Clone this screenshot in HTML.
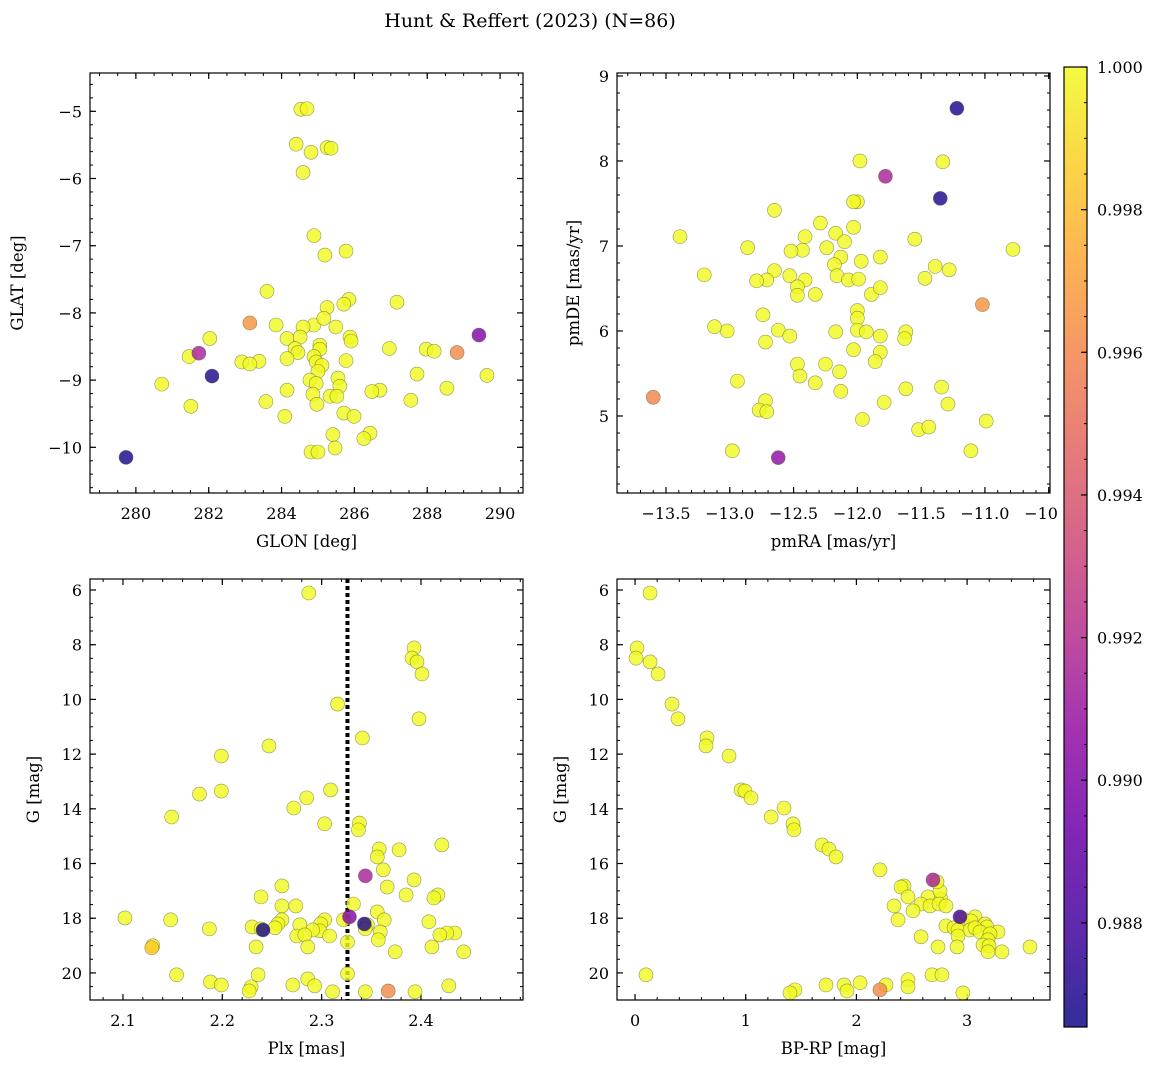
<!DOCTYPE html>
<html><head><meta charset="utf-8"><style>
html,body{margin:0;padding:0;background:#fff}
svg{display:block;font-family:"DejaVu Serif","Liberation Serif",serif}
</style></head><body>
<svg id="fig" width="1161" height="1067" viewBox="0 0 1161 1067" xmlns="http://www.w3.org/2000/svg">
<text x="530" y="27" font-size="19" text-anchor="middle">Hunt &amp; Reffert (2023) (N=86)</text>
</svg>
<script>
// ---- Panel 1: GLON vs GLAT ----
const p1Lon=[284.53,284.70,284.40,284.81,285.25,285.36,284.59,284.89,285.77,285.19,283.60,287.17,285.85,285.71,285.25,283.85,284.89,284.59,285.49,285.16,284.15,284.51,285.88,285.91,282.03,284.37,285.05,285.05,286.96,284.45,287.97,288.19,281.46,282.91,283.38,283.13,284.15,284.89,284.95,285.77,285.11,285.00,280.71,285.55,284.78,284.95,287.72,289.64,285.60,284.15,286.70,286.48,288.54,284.86,285.33,285.52,283.57,287.55,284.97,281.51,285.71,285.99,284.09,285.41,286.43,286.26,284.81,285.00,285.47,283.13,288.82,289.42,281.73,282.09,279.73];
const p1Lat=[-4.97,-4.96,-5.49,-5.61,-5.54,-5.55,-5.91,-6.85,-7.08,-7.14,-7.68,-7.84,-7.80,-7.87,-7.92,-8.18,-8.18,-8.21,-8.21,-8.08,-8.38,-8.36,-8.36,-8.42,-8.38,-8.53,-8.48,-8.54,-8.53,-8.59,-8.54,-8.57,-8.65,-8.73,-8.72,-8.76,-8.68,-8.65,-8.73,-8.71,-8.78,-8.87,-9.06,-8.97,-9.00,-9.05,-8.91,-8.93,-9.09,-9.15,-9.15,-9.17,-9.12,-9.21,-9.24,-9.24,-9.32,-9.30,-9.36,-9.39,-9.49,-9.54,-9.54,-9.81,-9.79,-9.87,-10.07,-10.07,-10.01,-8.15,-8.59,-8.33,-8.60,-8.94,-10.15];
const p1Prob=[1,1,1,1,1,1,1,1,1,1,1,1,1,1,1,1,1,1,1,1,1,1,1,1,1,1,1,1,1,1,1,1,1,1,1,1,1,1,1,1,1,1,1,1,1,1,1,1,1,1,1,1,1,1,1,1,1,1,1,1,1,1,1,1,1,1,1,1,1,0.9966,0.9962,0.9900,0.9915,0.9870,0.9868];
const p1XTicks=[280,282,284,286,288,290];
const p1YTicks=[-10,-9,-8,-7,-6,-5];
// ---- Panel 2: pmRA vs pmDE ----
const p2Ra=[-11.98,-11.33,-12.00,-12.03,-12.65,-12.29,-12.03,-12.17,-12.41,-11.55,-13.39,-10.78,-12.86,-12.24,-12.43,-12.52,-12.10,-12.13,-11.82,-11.97,-11.39,-11.28,-12.65,-12.18,-12.16,-13.20,-12.53,-12.41,-12.71,-12.79,-12.07,-11.99,-11.47,-12.47,-12.47,-12.33,-11.89,-11.82,-12.00,-12.00,-12.74,-13.02,-13.12,-12.62,-12.17,-12.00,-11.93,-12.53,-11.82,-11.62,-11.63,-12.72,-11.82,-12.03,-11.86,-12.47,-12.25,-12.14,-12.45,-12.94,-12.33,-12.13,-11.62,-11.34,-12.72,-11.79,-11.29,-12.77,-12.71,-11.96,-10.99,-11.52,-11.44,-12.98,-11.11,-11.22,-11.78,-11.35,-11.02,-13.60,-12.62];
const p2De=[8.00,7.99,7.52,7.52,7.42,7.27,7.22,7.15,7.11,7.08,7.11,6.96,6.98,6.98,6.95,6.94,7.05,6.87,6.87,6.82,6.76,6.72,6.71,6.78,6.65,6.66,6.65,6.60,6.60,6.59,6.60,6.61,6.62,6.52,6.42,6.43,6.43,6.51,6.24,6.15,6.19,6.00,6.05,6.01,5.99,6.01,5.99,5.94,5.94,5.99,5.91,5.87,5.75,5.78,5.64,5.61,5.61,5.52,5.47,5.41,5.39,5.29,5.32,5.34,5.18,5.16,5.14,5.07,5.05,4.96,4.94,4.84,4.87,4.59,4.59,8.62,7.82,7.56,6.31,5.22,4.51];
const p2Prob=[1,1,1,1,1,1,1,1,1,1,1,1,1,1,1,1,1,1,1,1,1,1,1,1,1,1,1,1,1,1,1,1,1,1,1,1,1,1,1,1,1,1,1,1,1,1,1,1,1,1,1,1,1,1,1,1,1,1,1,1,1,1,1,1,1,1,1,1,1,1,1,1,1,1,1,0.9868,0.9915,0.9870,0.9966,0.9960,0.9905];
const p2XTicks=[-13.5,-13.0,-12.5,-12.0,-11.5,-11.0,-10.5];
const p2XLabels=["\u221213.5","\u221213.0","\u221212.5","\u221212.0","\u221211.5","\u221211.0","\u221210.5"];
const p2YTicks=[5,6,7,8,9];
// ---- Panel 3: Plx vs G ----
const p3Plx=[2.287,2.393,2.391,2.396,2.401,2.316,2.398,2.341,2.247,2.199,2.309,2.199,2.177,2.285,2.272,2.149,2.303,2.338,2.337,2.421,2.358,2.378,2.356,2.362,2.393,2.260,2.366,2.239,2.417,2.413,2.385,2.260,2.274,2.332,2.356,2.303,2.322,2.346,2.363,2.260,2.256,2.278,2.299,2.102,2.148,2.253,2.298,2.230,2.291,2.187,2.239,2.408,2.344,2.359,2.357,2.434,2.275,2.283,2.308,2.426,2.419,2.130,2.234,2.326,2.286,2.374,2.411,2.443,2.326,2.154,2.236,2.188,2.199,2.229,2.227,2.271,2.344,2.286,2.293,2.428,2.394,2.311,2.344,2.328,2.343,2.241,2.129,2.367];
const p3G=[6.11,8.12,8.49,8.63,9.07,10.17,10.71,11.41,11.70,12.07,13.31,13.35,13.46,13.60,13.97,14.30,14.55,14.52,14.77,15.32,15.47,15.50,15.76,16.23,16.60,16.82,16.86,17.22,17.15,17.26,17.15,17.55,17.55,17.48,17.77,18.06,18.06,18.24,18.06,18.06,18.21,18.24,18.21,17.99,18.06,18.35,18.46,18.32,18.43,18.39,18.39,18.13,18.39,18.50,18.79,18.54,18.65,18.61,18.65,18.54,18.61,19.01,19.05,18.87,19.05,19.23,19.05,19.23,20.03,20.07,20.07,20.33,20.44,20.51,20.66,20.44,20.69,20.22,20.47,20.47,20.69,20.69,16.45,17.95,18.21,18.43,19.08,20.66];
const p3Prob=[1,1,1,1,1,1,1,1,1,1,1,1,1,1,1,1,1,1,1,1,1,1,1,1,1,1,1,1,1,1,1,1,1,1,1,1,1,1,1,1,1,1,1,1,1,1,1,1,1,1,1,1,1,1,1,1,1,1,1,1,1,1,1,1,1,1,1,1,1,1,1,1,1,1,1,1,1,1,1,1,1,1,0.9915,0.9900,0.9870,0.9868,0.9985,0.9962];
const p3XTicks=[2.1,2.2,2.3,2.4];
const p3YTicks=[6,8,10,12,14,16,18,20];
const p3PlxCut=2.326;
// ---- Panel 4: BP-RP vs G ----
const p4Col=[0.136,0.018,0.009,0.136,0.208,0.334,0.388,0.650,0.641,0.849,0.958,0.993,1.048,1.346,1.229,1.427,1.436,1.689,1.752,1.816,2.213,2.430,2.403,2.340,2.466,2.647,2.764,2.755,2.728,2.584,2.665,2.746,2.809,2.511,2.376,2.962,3.071,2.809,2.882,3.035,3.162,3.180,2.918,3.026,3.071,3.116,3.279,2.918,3.207,2.584,3.189,3.144,3.198,2.909,2.737,3.315,3.568,3.189,0.099,2.683,2.773,2.466,2.033,1.888,1.725,2.267,2.466,1.445,1.400,1.915,2.962,2.692,2.936,2.213];
const p4G=[6.11,8.12,8.49,8.63,9.07,10.17,10.71,11.41,11.70,12.07,13.31,13.35,13.60,13.97,14.30,14.55,14.77,15.32,15.47,15.76,16.23,16.82,16.86,17.55,17.22,17.22,17.30,17.01,16.67,17.48,17.55,17.48,17.55,17.73,18.06,18.02,17.95,18.28,18.35,18.10,18.21,18.32,18.43,18.43,18.35,18.50,18.50,18.65,18.57,18.68,18.79,18.98,19.01,19.05,19.05,19.23,19.05,19.23,20.07,20.07,20.07,20.25,20.36,20.44,20.44,20.44,20.51,20.62,20.73,20.66,20.73,16.60,17.95,20.62];
const p4Prob=[1,1,1,1,1,1,1,1,1,1,1,1,1,1,1,1,1,1,1,1,1,1,1,1,1,1,1,1,1,1,1,1,1,1,1,1,1,1,1,1,1,1,1,1,1,1,1,1,1,1,1,1,1,1,1,1,1,1,1,1,1,1,1,1,1,1,1,1,1,1,1,0.9915,0.9880,0.9962];
const p4XTicks=[0,1,2,3];
const p4YTicks=[6,8,10,12,14,16,18,20];
// ---- Colorbar ----
const cbTicks=[0.988,0.990,0.992,0.994,0.996,0.998,1.000];
const cbMin=0.98654, cbMax=1.0;

const NS="http://www.w3.org/2000/svg";
const svg=document.getElementById('fig');
function mk(tag,attrs,parent){const e=document.createElementNS(NS,tag);for(const k in attrs)e.setAttribute(k,attrs[k]);(parent||svg).appendChild(e);return e;}
const plasma=[[13,8,135],[65,4,157],[106,0,168],[143,13,164],[177,42,144],[204,71,120],[225,100,98],[242,132,75],[252,166,54],[252,206,37],[240,249,33]];
function cmap(v){let t=(v-cbMin)/(cbMax-cbMin);t=Math.max(0,Math.min(1,t))*10;const i=Math.min(9,Math.floor(t)),f=t-i;const a=plasma[i],b=plasma[i+1];return 'rgb('+a.map((x,j)=>Math.round(x+(b[j]-x)*f)).join(',')+')';}
function fmt(v,d){const s=Math.abs(v).toFixed(d);return (v<0?'\u2212':'')+s;}

function panel(o){
  const g=mk('g',{});
  
  
  const sx=v=>o.L+(v-o.x0)/(o.x1-o.x0)*(o.R-o.L);
  const sy=v=>o.T+(v-o.y0)/(o.y1-o.y0)*(o.B-o.T);
  for(let v=Math.ceil(o.x0/o.xm)*o.xm;v<=o.x1;v+=o.xm){const x=sx(v);
    mk('line',{x1:x,x2:x,y1:o.B,y2:o.B-3,stroke:'#000','stroke-width':1},g);
    mk('line',{x1:x,x2:x,y1:o.T,y2:o.T+3,stroke:'#000','stroke-width':1},g);}
  const ylo=Math.min(o.y0,o.y1),yhi=Math.max(o.y0,o.y1);
  for(let v=Math.ceil(ylo/o.ym)*o.ym;v<=yhi;v+=o.ym){const y=sy(v);
    mk('line',{x1:o.L,x2:o.L+3,y1:y,y2:y,stroke:'#000','stroke-width':1},g);
    mk('line',{x1:o.R,x2:o.R-3,y1:y,y2:y,stroke:'#000','stroke-width':1},g);}
  o.xt.forEach((v,i)=>{const x=sx(v);
    mk('line',{x1:x,x2:x,y1:o.B,y2:o.B-6,stroke:'#000','stroke-width':1.2},g);
    mk('line',{x1:x,x2:x,y1:o.T,y2:o.T+6,stroke:'#000','stroke-width':1.2},g);
    const t=mk('text',{x:x,y:o.B+26,'font-size':16,'text-anchor':'middle'},g);
    
    
    t.textContent=o.xl?o.xl[i]:fmt(v,o.xd);});
  o.yt.forEach(v=>{const y=sy(v);
    mk('line',{x1:o.L,x2:o.L+6,y1:y,y2:y,stroke:'#000','stroke-width':1.2},g);
    mk('line',{x1:o.R,x2:o.R-6,y1:y,y2:y,stroke:'#000','stroke-width':1.2},g);
    const t=mk('text',{x:o.L-8,y:y+6,'font-size':16,'text-anchor':'end'},g);
    
    
    t.textContent=fmt(v,o.yd);});
  const xl=mk('text',{x:(o.L+o.R)/2,y:o.B+54,'font-size':16.5,'text-anchor':'middle'},g);
  
  
  xl.textContent=o.xlab;
  const yx=o.ylx, yy=(o.T+o.B)/2;
  const yl=mk('text',{x:yx,y:yy,'font-size':16.5,'text-anchor':'middle',transform:'rotate(-90 '+yx+' '+yy+')'},g);
  
  
  yl.textContent=o.ylab;
  const clip='c'+o.name;
  const cp=mk('clipPath',{id:clip},g);mk('rect',{x:o.L,y:o.T,width:o.R-o.L,height:o.B-o.T},cp);
  const pts=mk('g',{'clip-path':'url(#'+clip+')'},g);
  if(o.vline!==undefined){const x=sx(o.vline);
    const l=mk('line',{x1:x,x2:x,y1:o.T,y2:o.B,stroke:'#000','stroke-width':4,'stroke-dasharray':'4 3'},pts);
    
    }
  o.xs.forEach((v,i)=>{
    const c=mk('circle',{cx:sx(v),cy:sy(o.ys[i]),r:7,fill:cmap(o.cs[i]),'fill-opacity':0.82,stroke:'#55552a','stroke-opacity':0.6,'stroke-width':0.6},pts);
    
    });
  mk('rect',{x:o.L,y:o.T,width:o.R-o.L,height:o.B-o.T,fill:'none',stroke:'#000','stroke-width':1.2},g);
}
panel({name:'panel-glon-glat',L:90,R:523,T:73,B:493,x0:278.74,x1:290.63,y0:-4.43,y1:-10.68,xm:0.5,ym:0.2,xt:p1XTicks,yt:p1YTicks,xd:0,yd:0,xlab:'GLON [deg]',ylab:'GLAT [deg]',ylx:23,xs:p1Lon,ys:p1Lat,cs:p1Prob});
panel({name:'panel-pmra-pmde',L:617,R:1050,T:73,B:493,x0:-13.884,x1:-10.49,y0:9.035,y1:4.094,xm:0.1,ym:0.2,xt:p2XTicks,xl:p2XLabels,yt:p2YTicks,xd:1,yd:0,xlab:'pmRA [mas/yr]',ylab:'pmDE [mas/yr]',ylx:579,xs:p2Ra,ys:p2De,cs:p2Prob});
panel({name:'panel-plx-g',L:90,R:523,T:579,B:1000,x0:2.0668,x1:2.5027,y0:5.598,y1:20.99,xm:0.02,ym:0.5,xt:p3XTicks,yt:p3YTicks,xd:1,yd:0,xlab:'Plx [mas]',ylab:'G [mag]',ylx:39,xs:p3Plx,ys:p3G,cs:p3Prob,vline:p3PlxCut});
panel({name:'panel-color-magnitude',L:617,R:1050,T:579,B:1000,x0:-0.163,x1:3.749,y0:5.598,y1:20.99,xm:0.2,ym:0.5,xt:p4XTicks,yt:p4YTicks,xd:0,yd:0,xlab:'BP-RP [mag]',ylab:'G [mag]',ylx:566,xs:p4Col,ys:p4G,cs:p4Prob});

// colorbar
(function(){
  const L=1064,R=1087,T=67,B=1027;
  const g=mk('g',{});
  
  
  mk('rect',{x:1058,y:60,width:103,height:980,fill:'#fff'},g);
  const defs=mk('defs',{},g);
  const lg=mk('linearGradient',{id:'cbg',x1:0,y1:1,x2:0,y2:0},defs);
  for(let i=0;i<=10;i++){mk('stop',{offset:i/10,'stop-color':'rgb('+plasma[i].join(',')+')','stop-opacity':0.85},lg);}
  mk('rect',{x:L,y:T,width:R-L,height:B-T,fill:'url(#cbg)'},g);
  mk('rect',{x:L,y:T,width:R-L,height:B-T,fill:'none',stroke:'#000','stroke-width':1.2},g);
  const sy=v=>B-(v-cbMin)/(cbMax-cbMin)*(B-T);
  cbTicks.forEach(v=>{const y=sy(v);
    mk('line',{x1:R,x2:R-6,y1:y,y2:y,stroke:'#000','stroke-width':1.2},g);
    const t=mk('text',{x:R+10,y:y+6,'font-size':16},g);
    
    
    t.textContent=v.toFixed(3);});
  for(let v=0.9870;v<1.0;v+=0.0005){const y=sy(v);mk('line',{x1:R,x2:R-3,y1:y,y2:y,stroke:'#000','stroke-width':1},g);}
})();
</script>
</body></html>
